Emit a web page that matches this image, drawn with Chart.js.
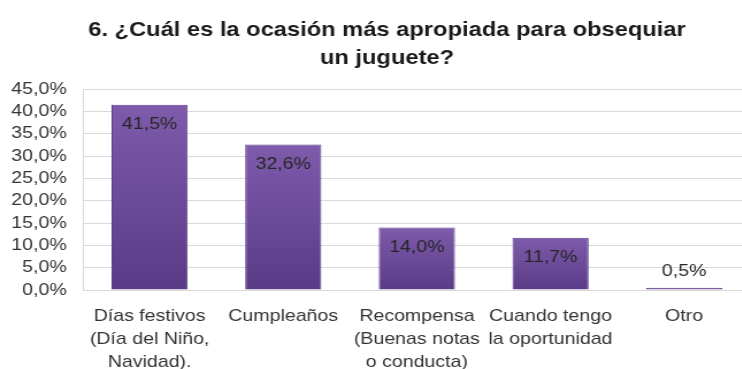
<!DOCTYPE html>
<html>
<head>
<meta charset="utf-8">
<script src="https://cdn.jsdelivr.net/npm/chart.js@4"></script>
<style>
    body { margin: 0; overflow: hidden; background: #fff; }
    /* the original picture is a bit wider than tall, so stretch the chart sideways */
    .chart-box { width: 673px; height: 369px; transform: scaleX(1.15); transform-origin: 0 0; }
</style>
</head>
<body>
<div class="chart-box">
    <canvas id="occasionChart" width="673" height="369"></canvas>
</div>
<script>
// Chart data
const titleLines = ['6. ¿Cuál es la ocasión más apropiada para obsequiar', 'un juguete?'];
const categories = [
    ['Días festivos', '(Día del Niño,', 'Navidad).'],
    'Cumpleaños',
    ['Recompensa', '(Buenas notas', 'o conducta)'],
    ['Cuando tengo', 'la oportunidad'],
    'Otro'
];
const percentValues = [41.5, 32.6, 14.0, 11.7, 0.5];
const axisMin = 0;
const axisMax = 45;
const axisStep = 5;

const fontFamily = '"Liberation Sans", Arial, sans-serif';

// Spanish style percent, e.g. 41,5%
function formatPercent(value) {
    return value.toFixed(1).replace('.', ',') + '%';
}

// Gradient for each bar, lighter on top
function barGradient(context) {
    const chart = context.chart;
    const { ctx, chartArea, scales } = chart;
    if (!chartArea || !scales.y) {
        return '#6A4A98';
    }
    const top = scales.y.getPixelForValue(context.raw);
    const bottom = scales.y.getPixelForValue(0);
    if (bottom - top < 2) {
        return '#7B5AA8';
    }
    const gradient = ctx.createLinearGradient(0, top, 0, bottom);
    gradient.addColorStop(0, '#7E5BAB');
    gradient.addColorStop(1, '#5A3B87');
    return gradient;
}

// Draw the value labels on the bars
const valueLabels = {
    id: 'valueLabels',
    afterDatasetsDraw(chart) {
        const ctx = chart.ctx;
        const meta = chart.getDatasetMeta(0);
        ctx.save();
        ctx.font = '17px ' + fontFamily;
        ctx.fillStyle = '#262626';
        ctx.textAlign = 'center';
        ctx.textBaseline = 'middle';
        meta.data.forEach((bar, index) => {
            const value = chart.data.datasets[0].data[index];
            const height = bar.base - bar.y;
            const y = height > 30 ? bar.y + 20 : bar.y - 16;
            ctx.fillText(formatPercent(value), bar.x, y);
        });
        ctx.restore();
    }
};

// The title in the original sits a little right of the canvas centre
const titleShift = {
    id: 'titleShift',
    afterLayout(chart) {
        if (chart.titleBlock) {
            chart.titleBlock.left += 20;
        }
    }
};

const ctxOccasion = document.getElementById('occasionChart').getContext('2d');

const occasionChart = new Chart(ctxOccasion, {
    type: 'bar',
    data: {
        labels: categories,
        datasets: [{
            data: percentValues,
            backgroundColor: barGradient,
            borderColor: '#5B3B88',
            borderWidth: 1,
            barPercentage: 0.57,
            categoryPercentage: 1
        }]
    },
    options: {
        responsive: false,
        animation: false,
        layout: {
            // right side runs past the window, like the cropped original
            padding: { top: 6, left: 0, right: 20, bottom: 0 }
        },
        plugins: {
            legend: { display: false },
            tooltip: { enabled: false },
            title: {
                display: true,
                text: titleLines,
                color: '#1a1a1a',
                font: { family: fontFamily, size: 20.6, weight: 'bold', lineHeight: 1.36 },
                padding: { top: 10, bottom: 17 }
            }
        },
        scales: {
            x: {
                grid: { display: false },
                border: { display: true, color: '#D9D9D9' },
                ticks: {
                    color: '#333333',
                    padding: 7,
                    maxRotation: 0,
                    autoSkip: false,
                    font: { family: fontFamily, size: 17, lineHeight: 1.35 }
                },
                afterFit(scale) {
                    scale.height = 79;
                }
            },
            y: {
                min: axisMin,
                max: axisMax,
                grid: { color: '#D9D9D9', drawTicks: false },
                border: { display: true, color: '#D9D9D9' },
                ticks: {
                    stepSize: axisStep,
                    autoSkip: false,
                    color: '#333333',
                    padding: 14,
                    font: { family: fontFamily, size: 17 },
                    callback: value => formatPercent(value)
                },
                afterFit(scale) {
                    scale.width = 72;
                }
            }
        }
    },
    plugins: [valueLabels, titleShift]
});
</script>
</body>
</html>
